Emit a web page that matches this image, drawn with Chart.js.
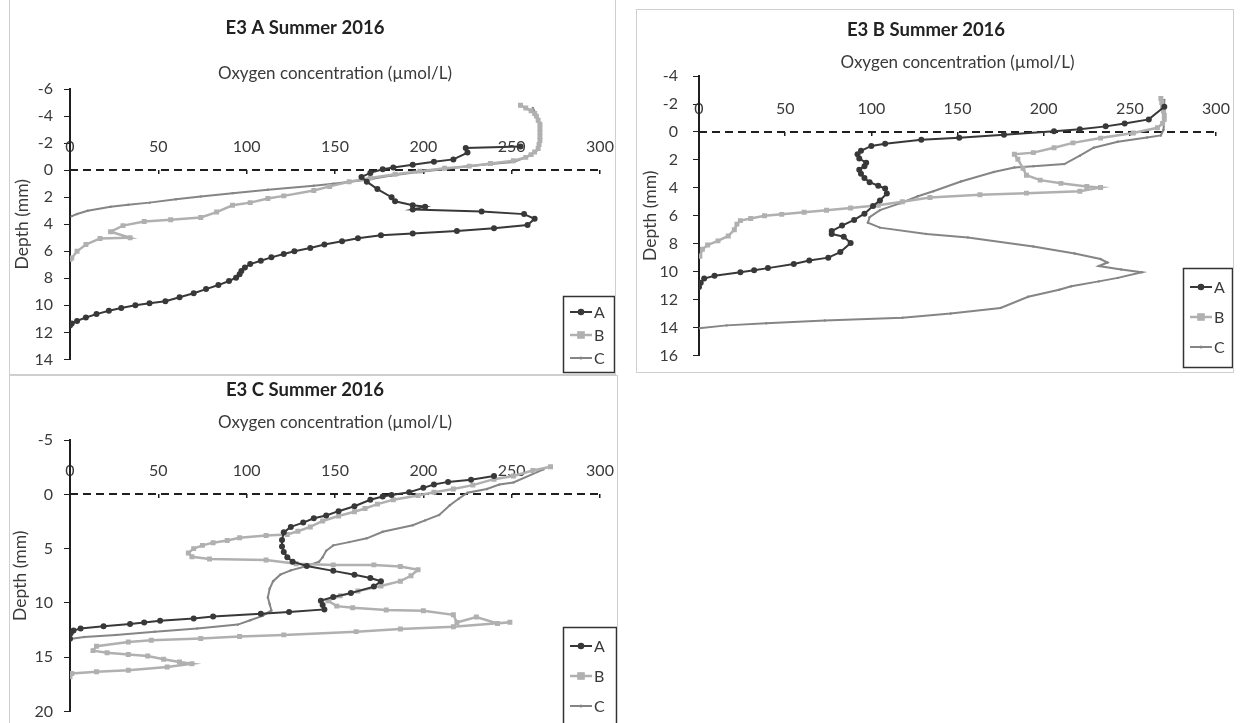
<!DOCTYPE html>
<html>
<head>
<meta charset="utf-8">
<title>E3 Summer 2016 oxygen profiles</title>
<script src="https://cdn.jsdelivr.net/npm/chart.js@4.4.1/dist/chart.umd.min.js"></script>
<style>
    body {
        margin: 0;
        width: 1241px;
        height: 723px;
        overflow: hidden;
        position: relative;
        background: #fff;
        font-family: Lato, sans-serif;
    }
    .panel {
        position: absolute;
        box-sizing: border-box;
        border: 1px solid #cfcfcf;
    }
    canvas {
        position: absolute;
    }
</style>
</head>
<body>
<div class="panel" style="left:9px; top:-2px; width:607px; height:377px;"></div>
<div class="panel" style="left:636px; top:9px; width:598px; height:364px;"></div>
<div class="panel" style="left:9px; top:375px; width:609px; height:360px;"></div>

<canvas id="chart-a" width="605" height="380" style="left:10px; top:0px;"></canvas>
<canvas id="chart-b" width="597" height="380" style="left:636px; top:0px;"></canvas>
<canvas id="chart-c" width="607" height="360" style="left:10px; top:372px;"></canvas>

<script>
// profile labels and shared axis ticks
const seriesLabels = ['A', 'B', 'C'];
const oxygenTicks = [0, 50, 100, 150, 200, 250, 300];
const depthTicksA = [-6, -4, -2, 0, 2, 4, 6, 8, 10, 12, 14];
const depthTicksB = [-4, -2, 0, 2, 4, 6, 8, 10, 12, 14, 16];
const depthTicksC = [-5, 0, 5, 10, 15, 20];

// E3 A: [oxygen (umol/L), depth (mm)]
const e3aA = [[255, -1.75], [224, -1.65], [225, -1.3], [217, -0.8], [206, -0.63], [194, -0.4], [183, -0.2], [177, -0.07], [170, 0.2], [165, 0.5], [168, 0.85], [174, 1.4], [182, 2.0], [184, 2.3], [194, 2.6], [201, 2.7], [194, 2.9], [233, 3.05], [257, 3.25], [263, 3.6], [259, 4.05], [240, 4.3], [219, 4.5], [194, 4.68], [176, 4.82], [163, 5.04], [154, 5.26], [144, 5.5], [136, 5.75], [127, 6.0], [121, 6.2], [114, 6.45], [108, 6.7], [102, 6.95], [99, 7.2], [97, 7.45], [96, 7.7], [94, 7.95], [90, 8.2], [84, 8.5], [77, 8.8], [70, 9.1], [62, 9.4], [54, 9.7], [45, 9.85], [37, 10.0], [29, 10.2], [22, 10.4], [15, 10.65], [9, 10.9], [4, 11.15], [1, 11.35], [0, 11.5]];
const e3aB = [[255, -4.8], [258, -4.6], [261, -4.4], [263, -4.2], [264, -4.0], [265, -3.7], [266, -3.4], [266, -3.1], [266, -2.8], [266, -2.5], [266, -2.2], [265.5, -1.9], [265, -1.6], [263, -1.35], [261, -1.15], [258, -0.95], [251, -0.7], [238, -0.5], [226, -0.3], [212, -0.15], [198, 0.07], [184, 0.3], [170, 0.58], [158, 0.86], [147, 1.2], [138, 1.5], [121, 1.9], [112, 2.1], [102, 2.4], [92, 2.6], [83, 3.1], [74, 3.5], [57, 3.67], [42, 3.8], [30, 4.1], [23, 4.55], [34, 5.0], [17, 5.05], [9, 5.5], [4, 6.0], [1, 6.5], [0, 6.6]];
const e3aC = [[262, -4.6], [265, -3.8], [266, -3.0], [266, -2.2], [265, -1.5], [258, -0.95], [251, -0.6], [238, -0.45], [225, -0.3], [210, -0.05], [196, 0.15], [182, 0.4], [168, 0.7], [149, 1.0], [138, 1.15], [112, 1.45], [92, 1.7], [74, 1.94], [60, 2.15], [45, 2.4], [33, 2.55], [23, 2.7], [10, 3.0], [4, 3.24], [1, 3.4]];

// E3 B
const e3bA = [[270, -1.8], [261, -0.9], [247, -0.6], [236, -0.4], [221, -0.2], [206, -0.05], [177, 0.2], [151, 0.42], [129, 0.56], [108, 0.85], [100, 1.0], [94, 1.35], [92, 1.6], [93, 1.9], [97, 2.2], [96, 2.45], [93, 2.7], [94, 3.0], [96, 3.3], [99, 3.6], [104, 3.85], [108, 4.05], [109, 4.4], [105, 4.9], [101, 5.3], [96, 5.85], [90, 6.3], [83, 6.7], [77, 7.1], [77, 7.3], [84, 7.5], [88, 7.95], [82, 8.6], [75, 9.0], [64, 9.2], [55, 9.45], [40, 9.75], [32, 9.9], [24, 10.05], [9, 10.3], [3, 10.5], [1, 10.8], [0, 11.1]];
const e3bB = [[268, -2.4], [268.5, -2.1], [269, -1.8], [269.5, -1.5], [270, -1.2], [270, -0.9], [269, -0.6], [266, -0.3], [252, 0.07], [233, 0.44], [217, 0.78], [206, 1.13], [194, 1.48], [183, 1.6], [185, 1.95], [188, 2.6], [190, 3.1], [198, 3.45], [210, 3.68], [225, 3.9], [233, 3.98], [221, 4.25], [190, 4.38], [163, 4.5], [134, 4.7], [118, 5.0], [104, 5.25], [88, 5.45], [74, 5.6], [61, 5.75], [48, 5.9], [38, 6.0], [30, 6.2], [24, 6.35], [22, 6.6], [20.5, 7.0], [17, 7.45], [11, 7.8], [5, 8.1], [2, 8.4], [0.5, 8.9]];
const e3bC = [[270, -2.3], [270, -1.5], [270, -0.8], [269.5, -0.15], [268, 0.25], [260, 0.4], [243, 0.7], [229, 1.13], [221, 1.7], [212, 2.3], [194, 2.45], [183, 2.55], [171, 2.87], [152, 3.55], [136, 4.25], [127, 4.6], [117, 5.1], [105, 5.6], [99, 6.1], [98, 6.5], [105, 6.85], [132, 7.3], [156, 7.55], [194, 8.2], [218, 8.7], [233, 9.1], [237, 9.35], [232, 9.6], [245, 9.85], [257, 10.05], [243, 10.45], [232, 10.7], [216, 11.05], [209, 11.3], [191, 11.8], [175, 12.6], [146, 13.0], [118, 13.3], [73, 13.5], [39, 13.7], [16, 13.85], [0, 14.05]];

// E3 C
const e3cA = [[240, -1.7], [227, -1.35], [214, -1.15], [206, -0.9], [200, -0.6], [192, -0.2], [182, 0.05], [177, 0.2], [170, 0.5], [161, 1.1], [152, 1.55], [145, 1.95], [138, 2.2], [132, 2.6], [125, 3.0], [121, 3.5], [120, 4.2], [120, 4.8], [121, 5.3], [123, 5.8], [126, 6.2], [134, 6.6], [149, 7.05], [161, 7.4], [170, 7.7], [176, 8.0], [172, 8.5], [159, 9.1], [149, 9.45], [142, 9.8], [143, 10.2], [144, 10.6], [124, 10.85], [108, 11.0], [81, 11.25], [70, 11.45], [51, 11.65], [42, 11.8], [34, 11.95], [19, 12.15], [6, 12.35], [2, 12.55], [0.4, 12.8], [0, 13.3]];
const e3cB = [[272, -2.55], [262, -2.2], [251, -1.7], [240, -1.4], [228, -0.85], [217, -0.5], [206, -0.2], [197, 0.1], [183, 0.5], [174, 0.9], [167, 1.3], [161, 1.6], [152, 2.0], [143, 2.45], [136, 3.0], [129, 3.4], [123, 3.7], [111, 3.8], [96, 4.0], [89, 4.25], [81, 4.45], [75, 4.7], [70, 5.0], [67, 5.4], [69, 5.75], [79, 5.95], [111, 6.05], [128, 6.4], [149, 6.5], [172, 6.5], [187, 6.65], [197, 6.95], [193, 7.5], [187, 8.0], [176, 8.45], [163, 8.9], [153, 9.35], [146, 9.8], [151, 10.3], [160, 10.45], [179, 10.65], [200, 10.72], [217, 11.1], [219, 11.8], [230, 11.3], [242, 11.9], [249, 11.78], [217, 12.2], [187, 12.4], [162, 12.65], [121, 12.95], [96, 13.1], [74, 13.28], [46, 13.45], [33, 13.6], [15, 14.0], [13, 14.4], [21, 14.6], [33, 14.75], [44, 14.9], [53, 15.2], [62, 15.45], [69, 15.6], [55, 15.9], [33, 16.2], [15, 16.35], [1, 16.5], [0, 16.8]];
const e3cC = [[268, -2.3], [251, -1.1], [243, -0.9], [236, -0.5], [225, -0.15], [220, 0.4], [215, 1.0], [209, 1.9], [201, 2.4], [194, 2.85], [177, 3.45], [168, 4.05], [158, 4.4], [149, 4.7], [145, 5.2], [143, 5.8], [141, 6.2], [134, 6.6], [125, 7.0], [119, 7.4], [115, 8.0], [113, 8.7], [112, 9.5], [113, 10.1], [114, 10.7], [109, 11.2], [102, 11.6], [95, 12.0], [72, 12.35], [48, 12.65], [26, 12.95], [8, 13.15], [1, 13.3]];

const FONT = 'Lato, "Open Sans", sans-serif';
const TEXT = '#3a3a3a';
const AXIS = '#1f1f1f';

const seriesStyles = [
    { borderColor: '#383838', backgroundColor: '#383838', borderWidth: 2, pointStyle: 'circle', pointRadius: 3 },
    { borderColor: '#b0b0b0', backgroundColor: '#b0b0b0', borderWidth: 2.5, pointStyle: 'rect', pointRadius: 3.5 },
    { borderColor: '#858585', backgroundColor: '#858585', borderWidth: 2, pointStyle: 'circle', pointRadius: 1.2 }
];

// dashed sediment surface line (depth 0) across the plot, under the profiles
const surfaceLine = {
    id: 'surfaceLine',
    beforeDatasetsDraw(chart) {
        const { ctx, chartArea, scales } = chart;
        const y = Math.round(scales.y.getPixelForValue(0));
        ctx.save();
        ctx.strokeStyle = AXIS;
        ctx.lineWidth = 2;
        ctx.setLineDash([8, 5]);
        ctx.beginPath();
        ctx.moveTo(chartArea.left, y);
        ctx.lineTo(chartArea.right, y);
        ctx.stroke();
        ctx.restore();
    }
};

// framed legend drawn over the plot, like the spreadsheet one
const boxLegend = {
    id: 'boxLegend',
    afterDraw(chart, args, opts) {
        const { ctx } = chart;
        ctx.save();
        ctx.fillStyle = '#fff';
        ctx.fillRect(opts.x, opts.y, opts.width, opts.height);
        ctx.strokeStyle = '#333';
        ctx.lineWidth = 1.5;
        ctx.strokeRect(opts.x + 0.5, opts.y + 0.5, opts.width - 1, opts.height - 1);

        chart.data.datasets.forEach((ds, i) => {
            const y = opts.y + opts.first + i * opts.gap;
            const x0 = opts.x + 7;
            const x1 = x0 + 22;
            ctx.strokeStyle = ds.borderColor;
            ctx.lineWidth = ds.borderWidth;
            ctx.beginPath();
            ctx.moveTo(x0, y);
            ctx.lineTo(x1, y);
            ctx.stroke();

            const r = ds.pointRadius + 0.3;
            const cx = (x0 + x1) / 2;
            ctx.fillStyle = ds.backgroundColor;
            if (ds.pointStyle === 'rect') {
                ctx.fillRect(cx - r, y - r, r * 2, r * 2);
            } else {
                ctx.beginPath();
                ctx.arc(cx, y, r, 0, Math.PI * 2);
                ctx.fill();
            }

            ctx.fillStyle = TEXT;
            ctx.font = '16px ' + FONT;
            ctx.textBaseline = 'middle';
            ctx.fillText(ds.label, x1 + 2, y + 1);
        });
        ctx.restore();
    }
};

function profileChart(canvasID, cfg) {
    const canvas = document.querySelector(canvasID);

    if (!canvas) {
        console.error(`Canvas element with ID ${canvasID} not found.`);
        return;
    }

    const ctx = canvas.getContext('2d');
    const depthTicks = cfg.depthTicks;

    return new Chart(ctx, {
        type: 'scatter',
        data: {
            datasets: seriesLabels.map((label, i) => Object.assign({
                label: label,
                data: cfg.series[i],
                showLine: true,
                pointBorderWidth: 0
            }, seriesStyles[i]))
        },
        options: {
            responsive: false,
            animation: false,
            devicePixelRatio: 1,
            layout: { padding: cfg.padding },
            plugins: {
                legend: { display: false },
                tooltip: { enabled: false },
                title: {
                    display: true,
                    text: cfg.title,
                    color: '#222',
                    font: { family: FONT, size: 18.5, weight: 'bold' },
                    padding: { top: cfg.titleTop, bottom: 0 }
                },
                subtitle: {
                    display: true,
                    fullSize: false,
                    text: 'Oxygen concentration (µmol/L)',
                    color: TEXT,
                    font: { family: FONT, size: 17 },
                    padding: cfg.subPadding
                },
                boxLegend: cfg.legendBox
            },
            scales: {
                x: {
                    type: 'linear',
                    min: oxygenTicks[0],
                    max: oxygenTicks[oxygenTicks.length - 1],
                    position: { y: 0 },
                    afterBuildTicks: (scale) => {
                        scale.ticks = oxygenTicks.map(v => ({ value: v }));
                    },
                    ticks: {
                        padding: -37,
                        color: TEXT,
                        font: { family: FONT, size: 16 }
                    },
                    grid: { drawOnChartArea: false, tickLength: 4, lineWidth: 1.5, color: AXIS },
                    border: { display: false }
                },
                y: {
                    type: 'linear',
                    reverse: true,
                    min: depthTicks[0],
                    max: depthTicks[depthTicks.length - 1],
                    afterBuildTicks: (scale) => {
                        scale.ticks = depthTicks.map(v => ({ value: v }));
                    },
                    afterFit: (scale) => {
                        scale.width = cfg.axisWidth;
                    },
                    ticks: {
                        padding: cfg.depthTickGap,
                        color: TEXT,
                        font: { family: FONT, size: 16 }
                    },
                    grid: { drawOnChartArea: false, tickLength: 6, color: AXIS },
                    border: { color: AXIS, width: 2 },
                    title: {
                        display: true,
                        text: 'Depth (mm)',
                        color: TEXT,
                        font: { family: FONT, size: 17.5 },
                        padding: { top: cfg.depthTitleGap, bottom: 0 }
                    }
                }
            }
        },
        plugins: [surfaceLine, boxLegend]
    });
}

profileChart('#chart-a', {
    title: 'E3 A Summer 2016',
    series: [e3aA, e3aB, e3aC],
    depthTicks: depthTicksA,
    padding: { top: 0, right: 15, bottom: 13, left: 0 },
    titleTop: 17,
    subPadding: { top: 23.7, bottom: 5.8 },
    axisWidth: 60,
    depthTickGap: 11,
    depthTitleGap: 1.5,
    legendBox: { x: 553, y: 296, width: 52, height: 77, first: 16, gap: 23 }
});

profileChart('#chart-b', {
    title: 'E3 B Summer 2016',
    series: [e3bA, e3bB, e3bC],
    depthTicks: depthTicksB,
    padding: { top: 0, right: 17, bottom: 18, left: 0 },
    titleTop: 19,
    subPadding: { top: 10.7, bottom: 3.8 },
    axisWidth: 63,
    depthTickGap: 15,
    depthTitleGap: 3.5,
    legendBox: { x: 547, y: 268, width: 50, height: 100, first: 19, gap: 30 }
});

profileChart('#chart-c', {
    title: 'E3 C Summer 2016',
    series: [e3cA, e3cB, e3cC],
    depthTicks: depthTicksC,
    padding: { top: 0, right: 17, bottom: 16, left: 0 },
    titleTop: 7,
    subPadding: { top: 10.7, bottom: 7.8 },
    axisWidth: 60,
    depthTickGap: 11,
    depthTitleGap: 0,
    legendBox: { x: 553, y: 255, width: 54, height: 105, first: 19, gap: 30 }
});
</script>
</body>
</html>
